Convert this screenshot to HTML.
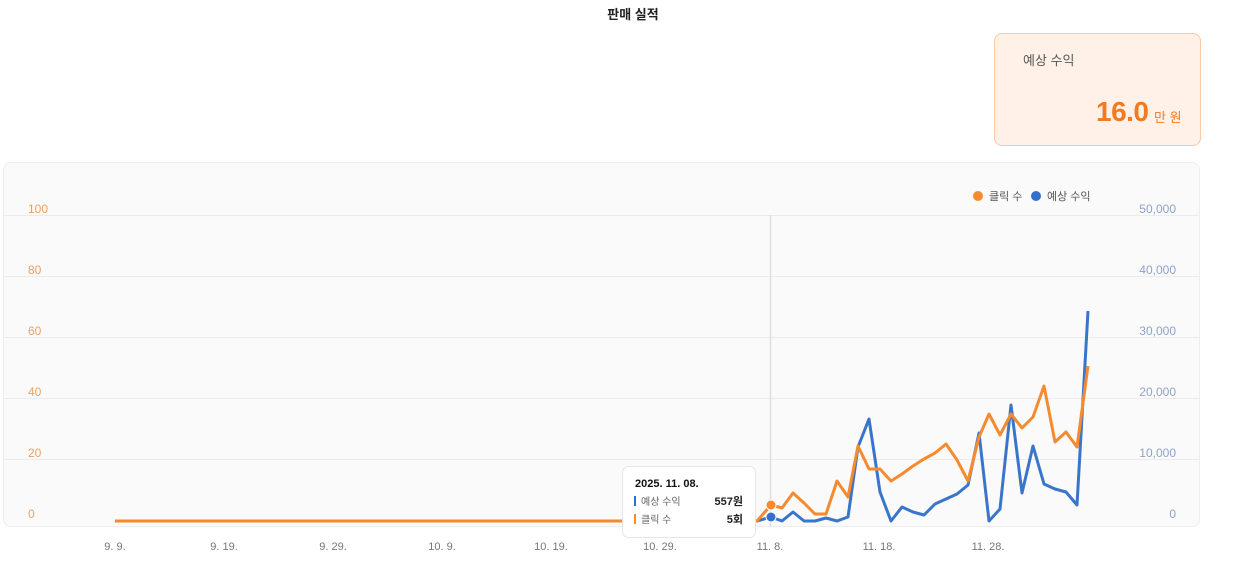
<!DOCTYPE html>
<html><head><meta charset="utf-8"><style>
body{margin:0;width:1234px;height:576px;background:#fff;font-family:"Liberation Sans","Noto Sans CJK KR",sans-serif;position:relative;overflow:hidden}
.t{position:absolute;white-space:nowrap}
</style></head><body>
<div class="t" style="left:0;width:1266px;text-align:center;top:4px;font-size:13px;font-weight:bold;color:#222">판매 실적</div>
<div style="position:absolute;left:994px;top:33px;width:207px;height:113px;background:#fff1e7;border:1px solid #f8c9a4;border-radius:8px;box-sizing:border-box"></div>
<div class="t" style="left:1023px;top:50px;font-size:13px;color:#555">예상 수익</div>
<div class="t" style="left:1096px;top:96px;font-size:28px;font-weight:bold;color:#f47a1f;letter-spacing:-0.5px">16.0</div>
<div class="t" style="left:1154px;top:107px;font-size:13px;color:#f47a1f">만 원</div>
<div style="position:absolute;left:3px;top:162px;width:1197px;height:365px;background:#fafafa;border:1px solid #eee;border-radius:8px;box-sizing:border-box"></div>
<svg width="1234" height="576" style="position:absolute;left:0;top:0" font-family="Liberation Sans, Noto Sans CJK KR, sans-serif">
<g stroke="#ebebeb" stroke-width="1">
<line x1="4" x2="1199" y1="215.5" y2="215.5"/><line x1="4" x2="1199" y1="276.5" y2="276.5"/><line x1="4" x2="1199" y1="337.5" y2="337.5"/><line x1="4" x2="1199" y1="398.5" y2="398.5"/><line x1="4" x2="1199" y1="459.5" y2="459.5"/>
</g>
<g font-size="12" fill="#f0a060"><text x="28" y="213">100</text><text x="28" y="274">80</text><text x="28" y="335">60</text><text x="28" y="396">40</text><text x="28" y="457">20</text><text x="28" y="518">0</text></g>
<g font-size="12" fill="#8fa3c4" text-anchor="end"><text x="1176" y="213">50,000</text><text x="1176" y="274">40,000</text><text x="1176" y="335">30,000</text><text x="1176" y="396">20,000</text><text x="1176" y="457">10,000</text><text x="1176" y="518">0</text></g>
<g font-size="11" fill="#777" text-anchor="middle"><text x="115" y="550">9. 9.</text><text x="224" y="550">9. 19.</text><text x="333" y="550">9. 29.</text><text x="442" y="550">10. 9.</text><text x="551" y="550">10. 19.</text><text x="660" y="550">10. 29.</text><text x="770" y="550">11. 8.</text><text x="879" y="550">11. 18.</text><text x="988" y="550">11. 28.</text></g>
<circle cx="978" cy="196" r="5" fill="#f58a2e"/><text x="989" y="200" font-size="11" fill="#555">클릭 수</text>
<circle cx="1036" cy="196" r="5" fill="#3370cc"/><text x="1047" y="200" font-size="11" fill="#555">예상 수익</text>
<line x1="770.5" x2="770.5" y1="215" y2="527" stroke="#ddd" stroke-width="1.5"/>
<polyline fill="none" stroke="#3a75cc" stroke-width="3" stroke-linejoin="round" points="115,521 757,521 771,517 782,521 793,512 804,521 815,521 826,518 837,521 848,517 858,447 869,419 880,492 891,521 902,507 913,512 924,515 935,504 946,499 957,494 968,485 979,433 989,521 1000,509 1011,405 1022,493 1033,446 1044,484 1055,489 1066,492 1077,505 1088,311"/>
<polyline fill="none" stroke="#f58a2e" stroke-width="3" stroke-linejoin="round" points="115,521 757,521 771,505 782,508 793,493 804,503 815,514 826,514 837,481 848,497 858,446 869,469 880,469 891,481 902,474 913,466 924,459 935,453 946,444 957,460 968,481 979,437 989,414 1000,435 1011,414 1022,428 1033,417 1044,386 1055,442 1066,432 1077,447 1088,366"/>
<circle cx="771" cy="505" r="5" fill="#f58a2e" stroke="#fff" stroke-width="1"/>
<circle cx="771" cy="517" r="5" fill="#3370cc" stroke="#fff" stroke-width="1"/>
<rect x="622.5" y="466.5" width="133" height="71" rx="6" fill="#fff" stroke="#e6e6e6"/>
<text x="635" y="487" font-size="11" font-weight="bold" fill="#111">2025. 11. 08.</text>
<rect x="634" y="496" width="2" height="10" fill="#3370cc"/><text x="641" y="505" font-size="10" fill="#666">예상 수익</text><text x="743" y="505" font-size="11" font-weight="bold" fill="#222" text-anchor="end">557원</text>
<rect x="634" y="514" width="2" height="10" fill="#f58a2e"/><text x="641" y="523" font-size="10" fill="#666">클릭 수</text><text x="743" y="523" font-size="11" font-weight="bold" fill="#222" text-anchor="end">5회</text>
</svg>
</body></html>
